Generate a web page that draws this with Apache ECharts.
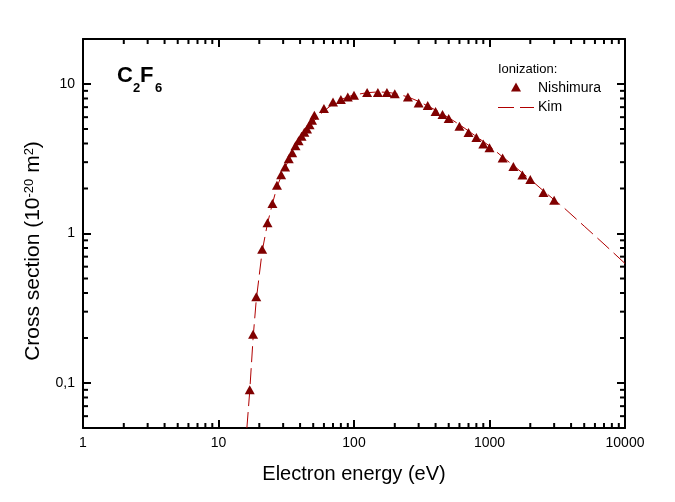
<!DOCTYPE html>
<html>
<head>
<meta charset="utf-8">
<script src="https://cdn.jsdelivr.net/npm/echarts@6.0.0/dist/echarts.min.js"></script>
<style>
html, body { margin: 0; padding: 0; background: #fff; }
#chart { width: 675px; height: 502px; }
</style>
</head>
<body>
<div id="chart"></div>
<script>
// Nishimura measurements (eV, 1e-20 m2)
var nishE = [17, 18, 19, 21, 23, 25, 27, 29, 31, 33, 35, 37, 39, 41, 43, 45, 47, 49, 51, 60, 70, 80, 90,
    100, 125, 150, 175, 200, 250, 300, 350, 400, 450, 500, 600, 700, 800, 900, 1000, 1250, 1500, 1750, 2000, 2500, 3000];
var nishY = [0.090, 0.212, 0.378, 0.784, 1.18, 1.59, 2.10, 2.47, 2.79, 3.16, 3.47, 3.86, 4.17, 4.48, 4.76, 5.01, 5.33, 5.73, 6.19, 6.86, 7.59, 7.89, 8.20,
    8.42, 8.78, 8.78, 8.78, 8.59, 8.20, 7.45, 7.18, 6.55, 6.25, 5.88, 5.22, 4.74, 4.39, 3.97, 3.75, 3.20, 2.81, 2.46, 2.30, 1.88, 1.67];
// Kim (BEB) curve
var kimE = [16.2, 17, 18, 19, 21, 23, 25, 27, 30, 35, 40, 45, 50, 60, 70, 80, 90, 100, 125, 150, 175, 200, 250, 300,
    400, 500, 600, 700, 800, 1000, 1250, 1500, 2000, 2500, 3000, 3500, 5000, 7000, 10000];
var kimY = [0.05, 0.088, 0.20, 0.36, 0.76, 1.17, 1.58, 2.05, 2.6, 3.45, 4.2, 4.9, 5.6, 6.6, 7.35, 7.85, 8.2, 8.45, 8.75, 8.85, 8.8, 8.65, 8.2, 7.65,
    6.7, 5.95, 5.35, 4.85, 4.45, 3.85, 3.25, 2.85, 2.3, 1.93, 1.68, 1.5, 1.12, 0.85, 0.63];
var yLabels = {"0.1": "0,1", "1": "1", "10": "10"};

var font = '"Liberation Sans", Arial, sans-serif';
var dark = "#800000", red = "#b00000";
var chart = echarts.init(document.getElementById("chart"));

function zip(a, b) {
    return a.map(function(v, i) { return [v, b[i]]; });
}

function axis(pos, min, max, labels) {
    return {
        type: "log", logBase: 10, position: pos, min: min, max: max,
        axisLine: { show: true, onZero: false, lineStyle: { color: "#000", width: 2 } },
        axisTick: { show: true, inside: true, length: 8, lineStyle: { color: "#000", width: 2 } },
        splitLine: { show: false },
        axisLabel: { show: labels, color: "#000", fontSize: 14, fontFamily: font, margin: 8,
            showMinLabel: false, showMaxLabel: false }
    };
}

var xa = axis("bottom", 1, 10000, true),
    xb = axis("top", 1, 10000, false),
    ya = axis("left", 0.05, 20, true),
    yb = axis("right", 0.05, 20, false);
xa.axisLabel.showMinLabel = true;
xa.axisLabel.showMaxLabel = true;
xa.axisLabel.formatter = function(v) { return String(Math.round(v)); };
xa.name = "Electron energy (eV)";
xa.nameLocation = "middle";
xa.nameGap = 36;
xa.nameTextStyle = { fontSize: 20, color: "#000", fontFamily: font };
ya.axisLabel.formatter = function(v) { return yLabels[String(+v.toPrecision(6))] || ""; };

chart.setOption({
    animation: false,
    grid: { left: 83, right: 50, top: 39, bottom: 74 },
    xAxis: [xa, xb],
    yAxis: [ya, yb],
    series: [{
        name: "Kim", type: "line", data: zip(kimE, kimY), symbol: "none", z: 2,
        lineStyle: { color: red, width: 1, type: [16, 6] }
    }, {
        name: "Nishimura", type: "scatter", data: zip(nishE, nishY), symbol: "triangle", symbolSize: [10, 9], z: 3,
        itemStyle: { color: dark, opacity: 1 }
    }]
});

// minor ticks at 2..9 of each decade, all four sides
function tick(x1, y1, x2, y2) {
    return { type: "line", silent: true, shape: { x1: x1, y1: y1, x2: x2, y2: y2 }, style: { stroke: "#000", lineWidth: 2 } };
}
function label(x, y, s, f) {
    return { type: "text", x: x, y: y, style: { text: s, fill: "#000", font: f, verticalAlign: "middle" } };
}
var L = chart.convertToPixel({ xAxisIndex: 0 }, 1),
    R = chart.convertToPixel({ xAxisIndex: 0 }, 10000),
    B = chart.convertToPixel({ yAxisIndex: 0 }, 0.05),
    T = chart.convertToPixel({ yAxisIndex: 0 }, 20),
    g = [], d, k, v, p;
for (d = 1; d < 10000; d *= 10) for (k = 2; k < 10; k++) {
    p = chart.convertToPixel({ xAxisIndex: 0 }, d * k);
    g.push(tick(p, B, p, B - 5), tick(p, T, p, T + 5));
}
for (d = 0.01; d < 20; d *= 10) for (k = 2; k < 10; k++) {
    v = d * k;
    if (v <= 0.05 || v >= 20) continue;
    p = chart.convertToPixel({ yAxisIndex: 0 }, v);
    g.push(tick(L, p, L + 5, p), tick(R, p, R - 5, p));
}

g.push({
    type: "text", x: 33, y: 251, rotation: Math.PI / 2,
    style: {
        text: "Cross section (10{s|-20} m{s|2})", fill: "#000", font: "21px " + font,
        align: "center", verticalAlign: "middle",
        rich: { s: { fontSize: 13, fontFamily: font, verticalAlign: "top", lineHeight: 13, fill: "#000" } }
    }
});

// legend box
g.push(label(498, 69, "Ionization:", "13px " + font),
    { type: "polygon", silent: true, shape: { points: [[516, 82.5], [521, 91.5], [511, 91.5]] }, style: { fill: dark } },
    label(538, 88, "Nishimura", "14px " + font),
    { type: "line", silent: true, shape: { x1: 498, y1: 107.5, x2: 534, y2: 107.5 }, style: { stroke: red, lineWidth: 1, lineDash: [16, 6] } },
    label(538, 107.5, "Kim", "14px " + font));

// molecule name
g.push(label(117, 76, "C", "bold 22px " + font), label(133, 88, "2", "bold 13px " + font),
    label(140, 76, "F", "bold 22px " + font), label(155, 88, "6", "bold 13px " + font));

chart.setOption({ graphic: g });
</script>
</body>
</html>
